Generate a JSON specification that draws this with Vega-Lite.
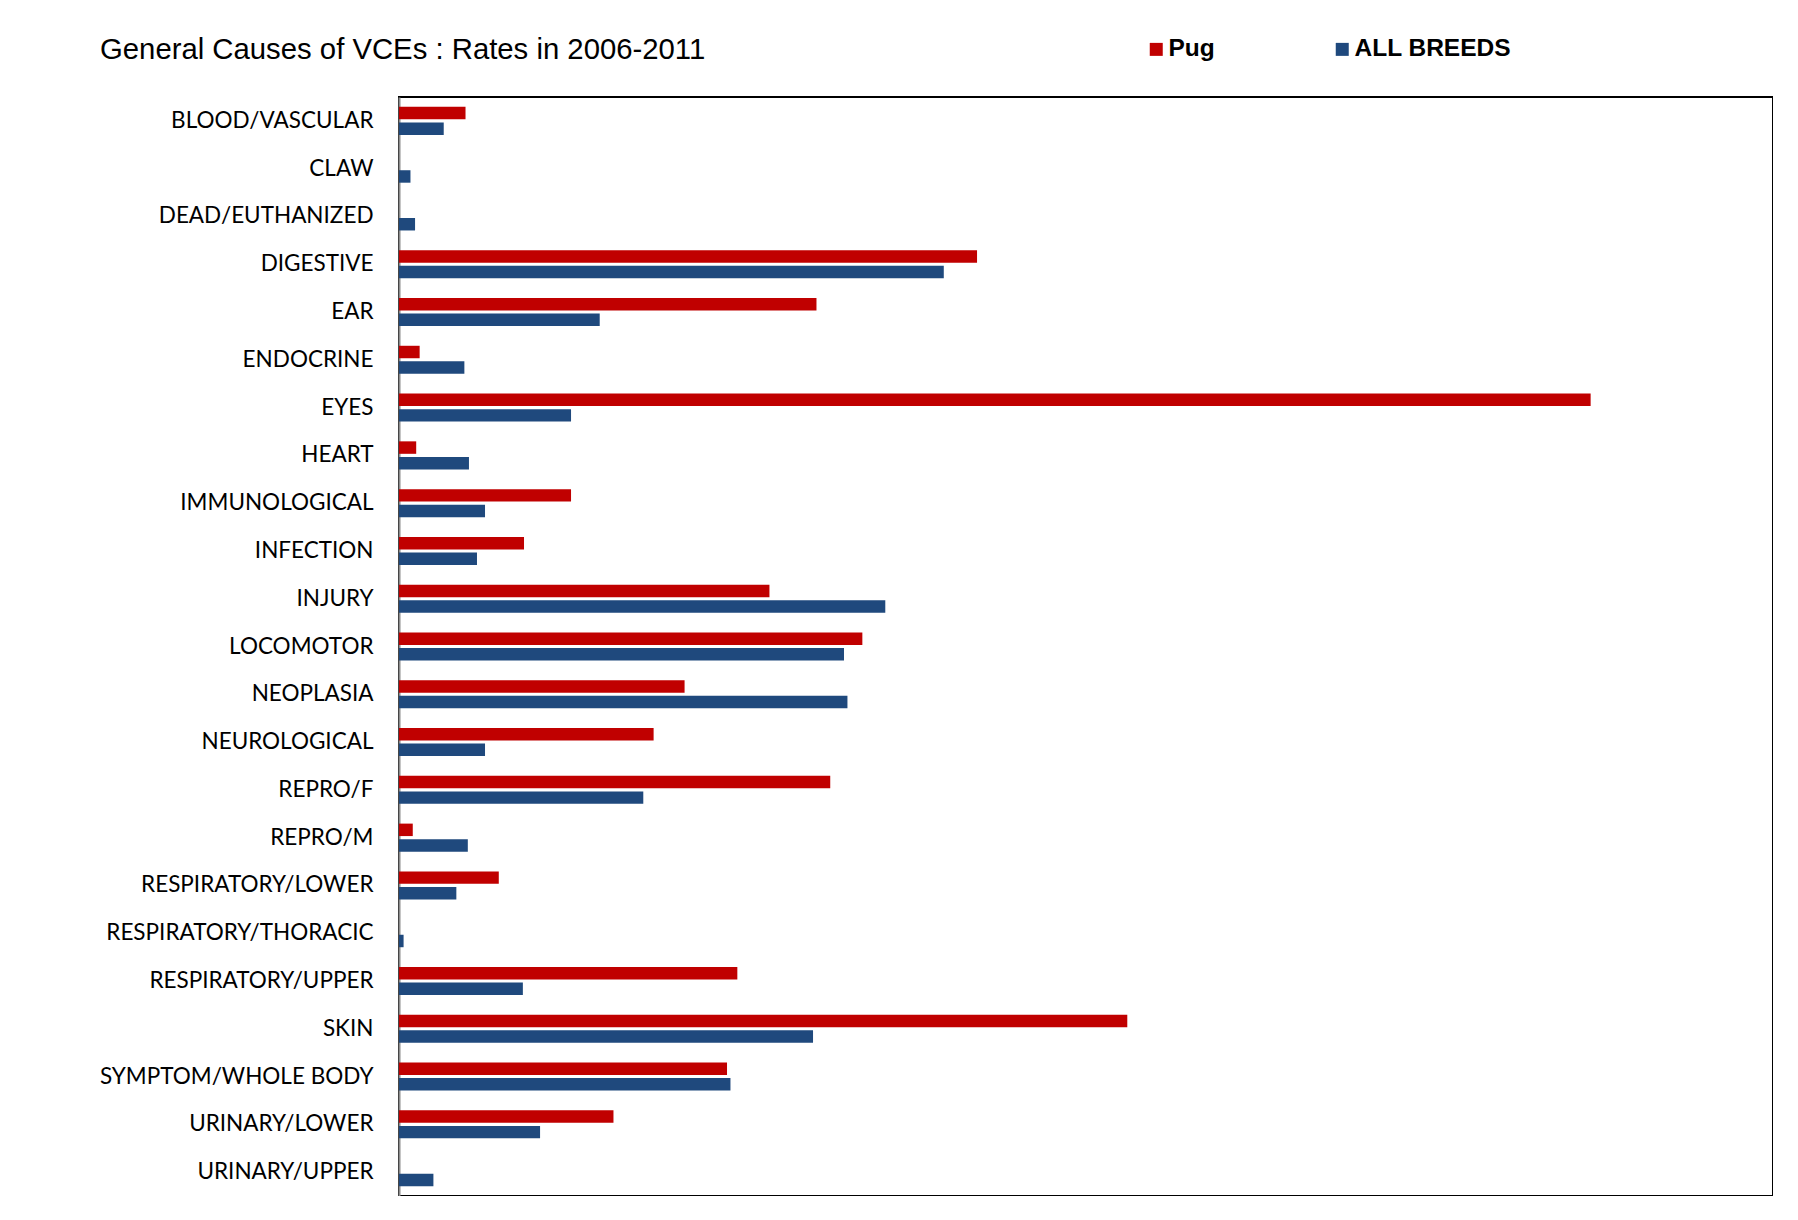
{
  "$schema": "https://vega.github.io/schema/vega-lite/v6.json",
  "autosize": {"type": "none"},
  "padding": {"left": 399, "top": 97, "right": 0, "bottom": 0},
  "width": 1374,
  "height": 1099,
  "background": "white",
  "title": {
    "text": "General Causes of VCEs : Rates in 2006-2011",
    "anchor": "start",
    "frame": "group",
    "dx": -299,
    "offset": -51,
    "baseline": "alphabetic",
    "font": "Liberation Sans",
    "fontSize": 29.3,
    "fontWeight": "normal",
    "color": "#000000"
  },
  "data": {
    "values": [
      {"cause": "BLOOD/VASCULAR", "series": "Pug", "value": 58},
      {"cause": "BLOOD/VASCULAR", "series": "ALL BREEDS", "value": 39},
      {"cause": "CLAW", "series": "Pug", "value": 0},
      {"cause": "CLAW", "series": "ALL BREEDS", "value": 10},
      {"cause": "DEAD/EUTHANIZED", "series": "Pug", "value": 0},
      {"cause": "DEAD/EUTHANIZED", "series": "ALL BREEDS", "value": 14},
      {"cause": "DIGESTIVE", "series": "Pug", "value": 504},
      {"cause": "DIGESTIVE", "series": "ALL BREEDS", "value": 475},
      {"cause": "EAR", "series": "Pug", "value": 364},
      {"cause": "EAR", "series": "ALL BREEDS", "value": 175},
      {"cause": "ENDOCRINE", "series": "Pug", "value": 18},
      {"cause": "ENDOCRINE", "series": "ALL BREEDS", "value": 57},
      {"cause": "EYES", "series": "Pug", "value": 1039},
      {"cause": "EYES", "series": "ALL BREEDS", "value": 150},
      {"cause": "HEART", "series": "Pug", "value": 15},
      {"cause": "HEART", "series": "ALL BREEDS", "value": 61},
      {"cause": "IMMUNOLOGICAL", "series": "Pug", "value": 150},
      {"cause": "IMMUNOLOGICAL", "series": "ALL BREEDS", "value": 75},
      {"cause": "INFECTION", "series": "Pug", "value": 109},
      {"cause": "INFECTION", "series": "ALL BREEDS", "value": 68},
      {"cause": "INJURY", "series": "Pug", "value": 323},
      {"cause": "INJURY", "series": "ALL BREEDS", "value": 424},
      {"cause": "LOCOMOTOR", "series": "Pug", "value": 404},
      {"cause": "LOCOMOTOR", "series": "ALL BREEDS", "value": 388},
      {"cause": "NEOPLASIA", "series": "Pug", "value": 249},
      {"cause": "NEOPLASIA", "series": "ALL BREEDS", "value": 391},
      {"cause": "NEUROLOGICAL", "series": "Pug", "value": 222},
      {"cause": "NEUROLOGICAL", "series": "ALL BREEDS", "value": 75},
      {"cause": "REPRO/F", "series": "Pug", "value": 376},
      {"cause": "REPRO/F", "series": "ALL BREEDS", "value": 213},
      {"cause": "REPRO/M", "series": "Pug", "value": 12},
      {"cause": "REPRO/M", "series": "ALL BREEDS", "value": 60},
      {"cause": "RESPIRATORY/LOWER", "series": "Pug", "value": 87},
      {"cause": "RESPIRATORY/LOWER", "series": "ALL BREEDS", "value": 50},
      {"cause": "RESPIRATORY/THORACIC", "series": "Pug", "value": 0},
      {"cause": "RESPIRATORY/THORACIC", "series": "ALL BREEDS", "value": 4},
      {"cause": "RESPIRATORY/UPPER", "series": "Pug", "value": 295},
      {"cause": "RESPIRATORY/UPPER", "series": "ALL BREEDS", "value": 108},
      {"cause": "SKIN", "series": "Pug", "value": 635},
      {"cause": "SKIN", "series": "ALL BREEDS", "value": 361},
      {"cause": "SYMPTOM/WHOLE BODY", "series": "Pug", "value": 286},
      {"cause": "SYMPTOM/WHOLE BODY", "series": "ALL BREEDS", "value": 289},
      {"cause": "URINARY/LOWER", "series": "Pug", "value": 187},
      {"cause": "URINARY/LOWER", "series": "ALL BREEDS", "value": 123},
      {"cause": "URINARY/UPPER", "series": "Pug", "value": 0},
      {"cause": "URINARY/UPPER", "series": "ALL BREEDS", "value": 30}
    ]
  },
  "mark": {"type": "bar"},
  "encoding": {
    "y": {
      "field": "cause",
      "type": "nominal",
      "sort": null,
      "scale": {"paddingInner": 0.413, "paddingOuter": 0.2065},
      "axis": {
        "title": null,
        "ticks": false,
        "domain": true,
        "domainColor": "#8c8c8c",
        "domainWidth": 2,
        "labelFont": "Lato",
        "labelFontSize": 22.5,
        "labelColor": "#000000",
        "labelPadding": 26,
        "labelLimit": 400
      }
    },
    "yOffset": {
      "field": "series",
      "sort": ["Pug", "ALL BREEDS"],
      "scale": {"paddingInner": 0.2}
    },
    "x": {
      "field": "value",
      "type": "quantitative",
      "scale": {"domain": [0, 1198], "nice": false, "zero": true},
      "axis": null
    },
    "color": {
      "field": "series",
      "type": "nominal",
      "sort": ["Pug", "ALL BREEDS"],
      "scale": {"domain": ["Pug", "ALL BREEDS"], "range": ["#C00000", "#1F497D"]},
      "legend": {
        "title": null,
        "orient": "none",
        "direction": "horizontal",
        "legendX": 745,
        "legendY": -60,
        "symbolType": "square",
        "symbolSize": 169,
        "symbolStrokeWidth": 0,
        "labelFont": "Liberation Sans",
        "labelFontSize": 24.5,
        "labelFontWeight": "bold",
        "labelColor": "#000000",
        "labelOffset": 0,
        "columnPadding": 115
      }
    }
  },
  "config": {
    "view": {"stroke": "#000000", "strokeWidth": 2}
  }
}
